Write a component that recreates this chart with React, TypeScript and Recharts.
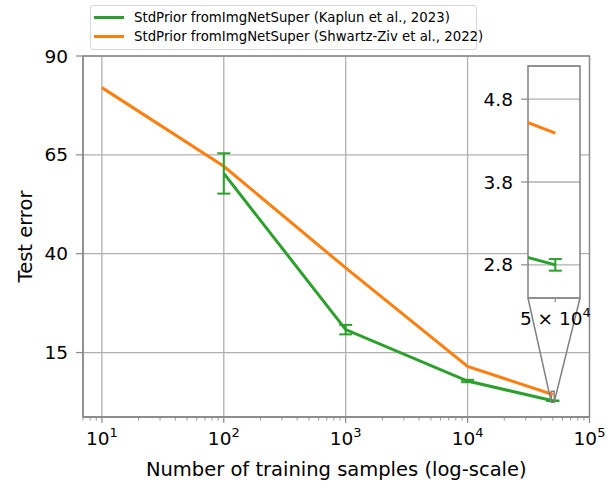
import {
  CartesianGrid,
  ErrorBar,
  Line,
  LineChart,
  ReferenceArea,
  XAxis,
  YAxis,
} from "recharts";

// training-set sizes and test errors for the two runs
const sampleSizes = [10, 100, 1000, 10000, 50000];
const kaplunError = [null, 60.3, 20.8, 7.8, 2.8];
const kaplunStd = [null, 5.1, 1.2, 0.3, 0.07];
const shwartzError = [82.0, 62.1, 36.4, 11.5, 4.39];

const xMajorTicks = [10, 100, 1000, 10000, 100000];
const xMinorTicks = [
  7, 8, 9, 20, 30, 40, 50, 60, 70, 80, 90, 200, 300, 400, 500, 600, 700, 800, 900,
  2000, 3000, 4000, 5000, 6000, 7000, 8000, 9000, 20000, 30000, 40000, 50000, 60000,
  70000, 80000, 90000,
];
const yTicks = [15, 40, 65, 90];
const insetXTicks = [50000];
const insetYTicks = [2.8, 3.8, 4.8];

const xDomain = [7, 100000];
const yDomain = [-1.3, 90];
const insetXDomain = [48600, 51300];
const insetYDomain = [2.4, 5.2];

const GREEN = "#2ca02c";
const ORANGE = "#ff7f0e";
const SPINE = "#8a8a8a";
const GRID = "#b0b0b0";
const FONT = "'DejaVu Sans', sans-serif";
const FS = 18.5; // tick labels
const TITLE_FS = 19.5; // axis titles
const SUP = 13;

const W = 606;
const H = 487;
// plot box of the main axes and of the zoomed inset
const PLOT = { left: 83, top: 56, right: 589.5, bottom: 417 };
const INSET = { left: 528, top: 66, right: 580, bottom: 298 };

const kaplunData = sampleSizes
  .map((n, i) => ({ n, err: kaplunError[i], std: kaplunStd[i] }))
  .filter((d) => d.err !== null);
const shwartzData = sampleSizes.map((n, i) => ({ n, err: shwartzError[i] }));

const allXTicks = [...xMinorTicks, ...xMajorTicks].sort((a, b) => a - b);

// main-axes data -> pixel, used for the inset connector lines
function px(v: number) {
  const lo = Math.log10(xDomain[0]);
  const hi = Math.log10(xDomain[1]);
  return PLOT.left + ((Math.log10(v) - lo) / (hi - lo)) * (PLOT.right - PLOT.left);
}
function py(v: number) {
  return PLOT.bottom - ((v - yDomain[0]) / (yDomain[1] - yDomain[0])) * (PLOT.bottom - PLOT.top);
}

function LogTick(props: any) {
  const { x, y, payload } = props;
  const lg = Math.log10(payload.value);
  const exp = Math.round(lg);
  const major = Math.abs(lg - exp) < 1e-9;
  return (
    <g>
      <line x1={x} x2={x} y1={y} y2={y + (major ? 6 : 3.5)} stroke={SPINE} strokeWidth={major ? 1.2 : 0.9} />
      {major && (
        <text x={x} y={y + 28} textAnchor="middle" fontSize={FS} fill="#000">
          10
          <tspan dy={-8} fontSize={SUP}>
            {exp}
          </tspan>
        </text>
      )}
    </g>
  );
}

function InsetTick(props: any) {
  const { x, y, payload } = props;
  const exp = Math.floor(Math.log10(payload.value));
  const mant = Math.round(payload.value / Math.pow(10, exp));
  return (
    <g>
      <line x1={x} x2={x} y1={y} y2={y + 4} stroke={SPINE} strokeWidth={1.2} />
      <text x={x} y={y + 27} textAnchor="middle" fontSize={FS} fill="#000">
        {`${mant} × 10`}
        <tspan dy={-8} fontSize={SUP}>
          {exp}
        </tspan>
      </text>
    </g>
  );
}

function Legend() {
  const rows = [
    { color: GREEN, label: "StdPrior fromImgNetSuper (Kaplun et al., 2023)" },
    { color: ORANGE, label: "StdPrior fromImgNetSuper (Shwartz-Ziv et al., 2022)" },
  ];
  return (
    <div
      style={{
        position: "absolute",
        left: 90,
        top: 5,
        width: 387,
        height: 45,
        border: "1px solid #d6d6d6",
        borderRadius: 3,
        background: "rgba(255,255,255,0.8)",
        fontSize: 13.3,
        boxSizing: "border-box",
      }}
    >
      {rows.map((r, i) => (
        <div
          key={r.label}
          style={{ position: "absolute", left: 3, top: 3 + i * 19, display: "flex", alignItems: "center", height: 17 }}
        >
          <div style={{ width: 30, height: 3, background: r.color, marginRight: 10 }} />
          <span style={{ whiteSpace: "nowrap" }}>{r.label}</span>
        </div>
      ))}
    </div>
  );
}

export default function App() {
  const insetChartLeft = INSET.left - 52;
  const insetChartTop = INSET.top - 6;
  return (
    <div style={{ position: "fixed", left: 0, top: 0, width: W, height: H, background: "#fff", fontFamily: FONT }}>
      <LineChart
        width={W}
        height={H}
        margin={{ top: PLOT.top, right: W - PLOT.right, bottom: 0, left: 0 }}
        style={{ position: "absolute", left: 0, top: 0 }}
      >
        <XAxis xAxisId="grid" dataKey="n" type="number" scale="log" domain={xDomain} ticks={xMajorTicks} allowDataOverflow hide />
        <CartesianGrid xAxisId="grid" stroke={GRID} strokeWidth={1.3} />
        <XAxis
          dataKey="n"
          type="number"
          scale="log"
          domain={xDomain}
          ticks={allXTicks}
          interval={0}
          allowDataOverflow
          height={H - PLOT.bottom}
          tickSize={0}
          tickMargin={0}
          tickLine={false}
          tick={<LogTick />}
          axisLine={{ stroke: SPINE, strokeWidth: 1.3 }}
        />
        <YAxis
          type="number"
          domain={yDomain}
          ticks={yTicks}
          interval={0}
          allowDataOverflow
          width={PLOT.left}
          tickSize={7}
          tickMargin={8}
          tick={{ fontSize: FS, fill: "#000" }}
          tickLine={{ stroke: SPINE, strokeWidth: 1.2 }}
          axisLine={{ stroke: SPINE, strokeWidth: 1.3 }}
        />
        <ReferenceArea x1={xDomain[0]} x2={xDomain[1]} y1={yDomain[0]} y2={yDomain[1]} fill="none" stroke={SPINE} strokeWidth={1.3} />
        <Line data={shwartzData} dataKey="err" stroke={ORANGE} strokeWidth={3} dot={false} activeDot={false} isAnimationActive={false} />
        <Line data={kaplunData} dataKey="err" stroke={GREEN} strokeWidth={3} dot={false} activeDot={false} isAnimationActive={false}>
          <ErrorBar dataKey="std" direction="y" width={6.5} stroke={GREEN} strokeWidth={2} isAnimationActive={false} />
        </Line>
        <ReferenceArea
          x1={insetXDomain[0]}
          x2={insetXDomain[1]}
          y1={insetYDomain[0]}
          y2={insetYDomain[1]}
          fill="none"
          stroke="#808080"
          strokeWidth={1.5}
          ifOverflow="visible"
        />
      </LineChart>

      <svg width={W} height={H} style={{ position: "absolute", left: 0, top: 0, pointerEvents: "none" }}>
        <text
          x={25}
          y={(PLOT.top + PLOT.bottom) / 2}
          transform={`rotate(-90 25 ${(PLOT.top + PLOT.bottom) / 2})`}
          textAnchor="middle"
          dominantBaseline="central"
          fontSize={TITLE_FS}
          fill="#000"
        >
          Test error
        </text>
        <text x={(PLOT.left + PLOT.right) / 2} y={476} textAnchor="middle" fontSize={TITLE_FS} fill="#000">
          Number of training samples (log-scale)
        </text>
        <line x1={INSET.left} y1={INSET.bottom} x2={px(insetXDomain[0])} y2={py(insetYDomain[0])} stroke="#808080" strokeWidth={1.5} />
        <line x1={INSET.right} y1={INSET.bottom} x2={px(insetXDomain[1])} y2={py(insetYDomain[0])} stroke="#808080" strokeWidth={1.5} />
      </svg>

      <LineChart
        width={INSET.right + 20 - insetChartLeft}
        height={INSET.bottom + 42 - insetChartTop}
        margin={{ top: 6, right: 20, bottom: 12, left: 0 }}
        style={{ position: "absolute", left: insetChartLeft, top: insetChartTop }}
      >
        <CartesianGrid vertical={false} stroke={GRID} strokeWidth={1.3} fill="#fff" fillOpacity={1} />
        <XAxis
          dataKey="n"
          type="number"
          scale="log"
          domain={insetXDomain}
          ticks={insetXTicks}
          interval={0}
          allowDataOverflow
          height={30}
          tickSize={0}
          tickMargin={0}
          tickLine={false}
          axisLine={false}
          tick={<InsetTick />}
        />
        <YAxis
          type="number"
          domain={insetYDomain}
          ticks={insetYTicks}
          interval={0}
          allowDataOverflow
          width={52}
          tickSize={7}
          tickMargin={8}
          tickFormatter={(v: number) => v.toFixed(1)}
          tick={{ fontSize: FS, fill: "#000" }}
          tickLine={{ stroke: SPINE, strokeWidth: 1.2 }}
          axisLine={false}
        />
        <Line data={shwartzData} dataKey="err" stroke={ORANGE} strokeWidth={3} dot={false} activeDot={false} isAnimationActive={false} />
        <Line data={kaplunData} dataKey="err" stroke={GREEN} strokeWidth={3} dot={false} activeDot={false} isAnimationActive={false}>
          <ErrorBar dataKey="std" direction="y" width={6.5} stroke={GREEN} strokeWidth={2} isAnimationActive={false} />
        </Line>
        <ReferenceArea
          x1={insetXDomain[0]}
          x2={insetXDomain[1]}
          y1={insetYDomain[0]}
          y2={insetYDomain[1]}
          fill="none"
          stroke="#808080"
          strokeWidth={1.5}
        />
      </LineChart>

      <Legend />
    </div>
  );
}
